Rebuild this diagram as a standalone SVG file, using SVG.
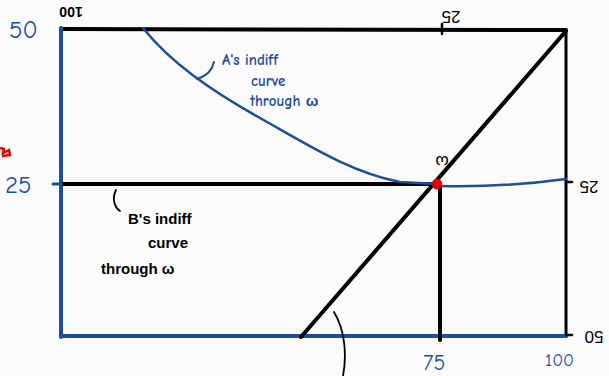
<svg xmlns="http://www.w3.org/2000/svg" width="609" height="376" viewBox="0 0 609 376">
<style>
.bl{stroke:#1b4f9b;fill:none;stroke-linecap:round;stroke-linejoin:round}
.bk{stroke:#000;fill:none;stroke-linecap:round;stroke-linejoin:round}
.tb{font-family:"Comic Neue","Liberation Sans",sans-serif;fill:#1b4f9b}
.tk{font-family:"Liberation Sans",sans-serif;fill:#000}
</style>
<rect width="609" height="376" fill="#fbfbfb"/>
<g id="connectors">
<path class="bk" stroke-width="4" d="M61 29 L566 30"/>
<path class="bk" stroke-width="3" d="M566 30 L566 336"/>
<path class="bl" stroke-width="4" d="M61 28 L61 337"/>
<path class="bl" stroke-width="4" d="M61 336 L566 336"/>
<path class="bk" stroke-width="4" d="M63 184 L437 184"/>
<path class="bk" stroke-width="4" d="M440 184 L440 340"/>
<path class="bk" stroke-width="4" d="M301 337 L566 31"/>
<path class="bl" stroke-width="2.5" d="M143 28 C170 62 210 90 260 118 C310 146 350 172 400 182 L437 184"/>
<path class="bl" stroke-width="2.5" d="M441 186 C490 187 530 184 566 179"/>
<path class="bk" stroke-width="1.8" d="M334 312 C345 330 347 355 343 376"/>
<path class="bl" stroke-width="2" d="M197 79 C208 75 212 70 214 62"/>
<path class="bk" stroke-width="1.8" d="M116 190 C112 198 114 207 120 211"/>
<path class="bl" stroke-width="3" d="M53 184 L61 184"/>
<path class="bk" stroke-width="2.5" d="M442 24 L442 34"/>
<path class="bk" stroke-width="2.5" d="M566 182 L572 182"/>
<path class="bk" stroke-width="2.5" d="M566 335 L572 335"/>
</g>
<g id="node-omega">
<ellipse cx="437" cy="184" rx="5" ry="5.5" fill="#e00000"/>
<text class="tk" x="442" y="164" font-size="17" text-anchor="middle" transform="rotate(180 442 160)">ω</text>
</g>
<g id="node-axis-labels-A">
<text class="tb" x="9" y="38" font-size="25">50</text>
<text class="tb" x="5" y="193" font-size="25">25</text>
<text class="tb" x="423" y="370" font-size="22">75</text>
<text class="tb" x="545" y="366" font-size="18">100</text>
</g>
<g id="node-axis-labels-B">
<text class="tk" x="71" y="17" font-size="14" font-weight="bold" text-anchor="middle" transform="rotate(180 71 12)">100</text>
<text class="tk" x="451" y="23" font-size="17" text-anchor="middle" transform="rotate(180 451 17)">25</text>
<text class="tk" x="589" y="193" font-size="17" text-anchor="middle" transform="rotate(180 589 187)">25</text>
<text class="tk" x="594" y="343" font-size="17" text-anchor="middle" transform="rotate(180 594 337)">50</text>
</g>
<g id="node-label-A">
<text class="tb" x="222" y="65" font-size="15" font-weight="bold">A's indiff</text>
<text class="tb" x="251" y="86" font-size="15" font-weight="bold">curve</text>
<text class="tb" x="250" y="106" font-size="15" font-weight="bold">through ω</text>
</g>
<g id="node-label-B">
<text class="tk" x="128" y="224" font-size="15" font-weight="bold">B's indiff</text>
<text class="tk" x="148" y="248" font-size="15" font-weight="bold">curve</text>
<text class="tk" x="101" y="274" font-size="15" font-weight="bold">through ω</text>
</g>
<g id="node-red-mark">
<path d="M0 148 L4 149 L3 153 L9 150 L10 155 L2 156" stroke="#e00000" stroke-width="2.5" fill="none"/>
</g>
</svg>
